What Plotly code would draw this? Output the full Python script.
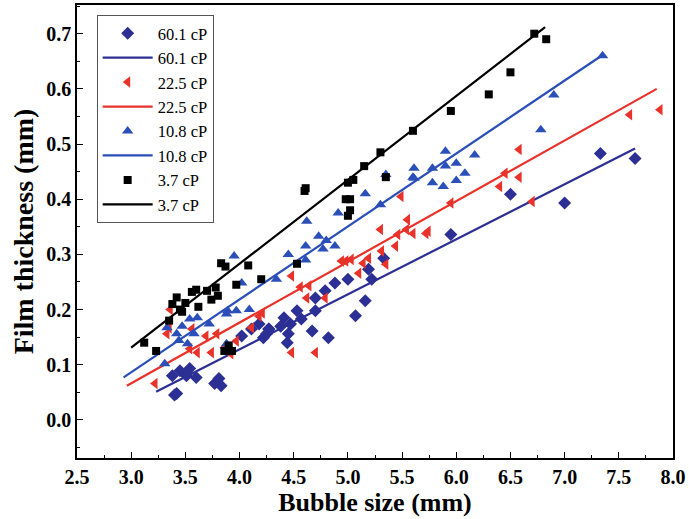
import plotly.graph_objects as go

# Measured film thickness (mm) versus bubble size (mm) for four liquid viscosities

# 60.1 cP
x_601 = [3.38, 3.42, 3.45, 3.51, 3.54, 3.60, 3.77, 3.81, 3.83, 3.40,
         4.02, 4.11, 4.22, 4.27, 4.18, 4.25, 4.27, 4.38, 4.41, 4.44,
         4.45, 4.47, 4.53, 4.57, 4.67, 4.70, 4.70, 4.79, 4.82, 4.88,
         5.00, 5.07, 5.16, 5.19, 5.22, 5.33, 5.95, 6.50, 7.00, 7.33, 7.65]
y_601 = [0.080, 0.048, 0.089, 0.080, 0.093, 0.077, 0.066, 0.075, 0.062, 0.045,
         0.152, 0.165, 0.149, 0.165, 0.174, 0.156, 0.165, 0.170, 0.185, 0.140,
         0.156, 0.174, 0.198, 0.183, 0.161, 0.221, 0.198, 0.234, 0.149, 0.248,
         0.255, 0.189, 0.216, 0.273, 0.255, 0.293, 0.336, 0.409, 0.393, 0.483, 0.474]
fit_x_601 = [3.23, 7.65]
fit_y_601 = [0.051, 0.492]

# 22.5 cP
x_225 = [3.22, 3.33, 3.35, 3.36, 3.54, 3.56, 3.61, 3.69, 3.74, 3.79,
         3.86, 3.92, 3.97, 4.11, 4.18, 4.21, 4.48, 4.56, 4.62, 4.64,
         4.70, 4.79, 4.48, 4.94, 4.98, 5.03, 5.10, 5.14, 5.19, 5.30,
         5.31, 5.35, 5.44, 5.46, 5.49, 5.54, 5.55, 5.60, 5.72, 5.74,
         5.95, 6.40, 6.45, 6.58, 6.58, 6.70, 7.60, 7.88]
y_225 = [0.066, 0.156, 0.167, 0.200, 0.129, 0.165, 0.122, 0.152, 0.122, 0.156,
         0.131, 0.120, 0.143, 0.167, 0.188, 0.194, 0.122, 0.241, 0.221, 0.243,
         0.122, 0.221, 0.261, 0.288, 0.288, 0.291, 0.266, 0.284, 0.293, 0.345,
         0.306, 0.282, 0.315, 0.336, 0.405, 0.345, 0.363, 0.338, 0.338, 0.342,
         0.393, 0.423, 0.447, 0.490, 0.440, 0.396, 0.553, 0.562]
fit_x_225 = [2.96, 7.85]
fit_y_225 = [0.062, 0.600]

# 10.8 cP
x_108 = [3.31, 3.33, 3.42, 3.44, 3.47, 3.52, 3.54, 3.58, 3.61, 3.72,
         3.88, 3.88, 3.89, 3.97, 3.95, 4.02, 4.09, 4.34, 4.45, 4.61,
         4.61, 4.62, 4.73, 4.77, 4.80, 4.88, 4.91, 5.16, 5.30, 5.35,
         5.60, 5.61, 5.61, 5.78, 5.78, 5.88, 5.90, 5.90, 6.00, 6.00,
         6.08, 6.17, 6.78, 6.90, 7.35]
y_108 = [0.102, 0.167, 0.156, 0.144, 0.170, 0.138, 0.183, 0.156, 0.185, 0.174,
         0.192, 0.138, 0.198, 0.198, 0.297, 0.248, 0.200, 0.255, 0.300, 0.315,
         0.290, 0.360, 0.333, 0.310, 0.325, 0.315, 0.375, 0.410, 0.390, 0.445,
         0.440, 0.456, 0.438, 0.456, 0.430, 0.423, 0.487, 0.460, 0.465, 0.434,
         0.447, 0.480, 0.526, 0.589, 0.660]
fit_x_108 = [2.93, 7.34]
fit_y_108 = [0.077, 0.660]

# 3.7 cP
x_37 = [3.12, 3.23, 3.35, 3.38, 3.42, 3.45, 3.47, 3.50, 3.56, 3.60,
        3.62, 3.70, 3.74, 3.78, 3.83, 3.87, 3.80, 3.97, 4.08, 4.20,
        3.86, 3.93, 3.90, 4.53, 4.60, 4.61, 4.98, 5.00, 5.02, 5.00,
        5.05, 5.02, 5.15, 5.30, 5.35, 5.60, 5.95, 6.30, 6.50, 6.72, 6.83]
y_37 = [0.140, 0.125, 0.180, 0.210, 0.222, 0.200, 0.196, 0.212, 0.232, 0.236,
        0.205, 0.234, 0.218, 0.240, 0.284, 0.278, 0.225, 0.245, 0.280, 0.255,
        0.125, 0.125, 0.135, 0.283, 0.415, 0.420, 0.400, 0.430, 0.400, 0.370,
        0.435, 0.380, 0.460, 0.485, 0.440, 0.524, 0.560, 0.590, 0.630, 0.700, 0.690]
fit_x_37 = [3.00, 6.82]
fit_y_37 = [0.131, 0.712]

x_ticks = [2.5, 3.0, 3.5, 4.0, 4.5, 5.0, 5.5, 6.0, 6.5, 7.0, 7.5, 8.0]
y_ticks = [0.0, 0.1, 0.2, 0.3, 0.4, 0.5, 0.6, 0.7]

NAVY = "#2c2f94"
RED = "#e8322a"
BLUE = "#2b4fb8"
BLACK = "#000000"

SERIF = "Liberation Serif"

fig = go.Figure()

series = [
    ("60.1 cP", x_601, y_601, fit_x_601, fit_y_601, NAVY, "diamond", 10),
    ("22.5 cP", x_225, y_225, fit_x_225, fit_y_225, RED, "triangle-left", 10),
    ("10.8 cP", x_108, y_108, fit_x_108, fit_y_108, BLUE, "triangle-up", 10),
    ("3.7 cP", x_37, y_37, fit_x_37, fit_y_37, BLACK, "square", 8),
]

for name, xs, ys, fx, fy, color, symbol, size in series:
    fig.add_trace(go.Scatter(
        x=xs, y=ys, mode="markers", name=name,
        marker=dict(symbol=symbol, size=size, color=color, line=dict(width=0)),
    ))
    fig.add_trace(go.Scatter(
        x=fx, y=fy, mode="lines", name=name,
        line=dict(color=color, width=2.2),
    ))

axis_common = dict(
    showline=True, linecolor="black", linewidth=1.5, mirror=True,
    ticks="inside", ticklen=6, tickwidth=1.3, tickcolor="black",
    showgrid=False, zeroline=False,
    tickfont=dict(family=SERIF, size=20, color="black", weight="bold"),
    tickformat=".1f",
)

fig.update_xaxes(
    range=[2.5, 8.0], tickvals=x_ticks,
    minor=dict(ticks="inside", ticklen=3, tickwidth=1.2, tickcolor="black", dtick=0.25),
    title=dict(text="Bubble size (mm)",
               font=dict(family=SERIF, size=26, color="black", weight="bold"), standoff=5),
    **axis_common,
)
fig.update_yaxes(
    range=[-0.069, 0.752], tickvals=y_ticks,
    minor=dict(ticks="inside", ticklen=3, tickwidth=1.2, tickcolor="black", dtick=0.05),
    title=dict(text="Film thickness (mm)",
               font=dict(family=SERIF, size=28, color="black", weight="bold"), standoff=4),
    **axis_common,
)

fig.update_layout(
    width=689, height=519,
    margin=dict(l=77, r=13, t=3, b=61),
    plot_bgcolor="white", paper_bgcolor="white",
    font=dict(family=SERIF, color="black"),
    legend=dict(
        x=0.033, y=0.978, xanchor="left", yanchor="top",
        bordercolor="#555555", borderwidth=1, bgcolor="white",
        font=dict(family=SERIF, size=16.5, color="black"),
        tracegroupgap=0, itemwidth=50,
    ),
)

fig.write_html("out.html")
